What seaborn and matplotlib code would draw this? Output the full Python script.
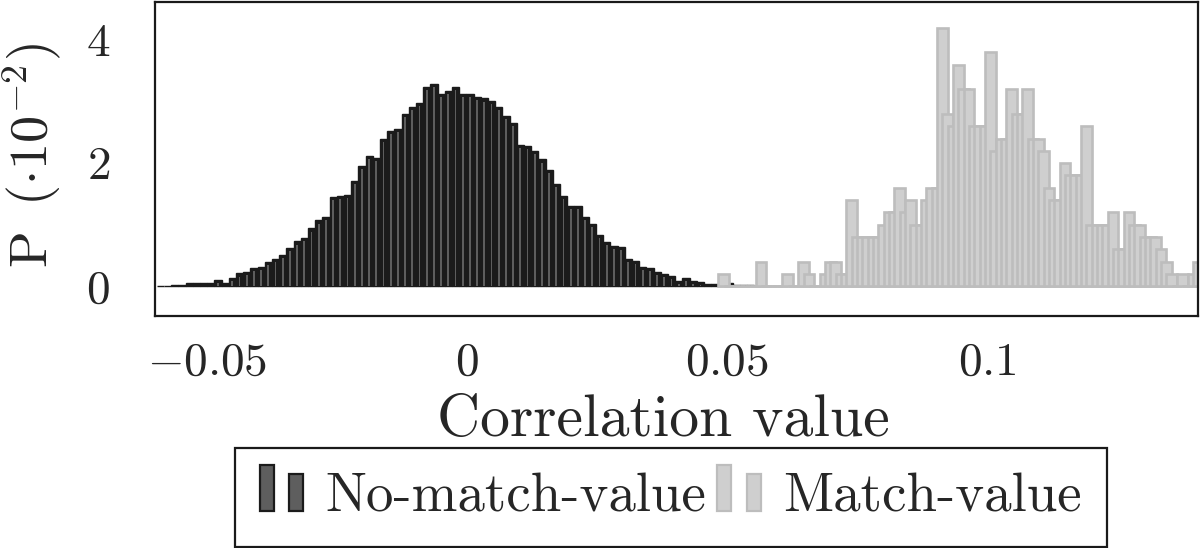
import numpy as np
import pandas as pd
import matplotlib
matplotlib.use("Agg")
import matplotlib.pyplot as plt
import seaborn as sns
from matplotlib.patches import Patch, Rectangle
from matplotlib.legend_handler import HandlerBase

# ------------------------------------------------------------------
# Data (P in units of 1e-2)
# ------------------------------------------------------------------
# No-match correlations: bins start at NOMATCH_START, width NOMATCH_STEP
NOMATCH_START = -0.05967
NOMATCH_STEP = 0.001385
no_match = [0.01, 0.01, 0.03, 0.03, 0.05, 0.05, 0.05, 0.06, 0.10, 0.06,
            0.14, 0.21, 0.24, 0.30, 0.32, 0.40, 0.44, 0.51, 0.62, 0.73,
            0.78, 0.94, 1.07, 1.13, 1.45, 1.47, 1.49, 1.71, 1.96, 2.12,
            2.08, 2.39, 2.53, 2.56, 2.80, 2.91, 2.97, 3.23, 3.29, 3.12,
            3.17, 3.23, 3.13, 3.13, 3.07, 3.05, 3.01, 2.91, 2.76, 2.65,
            2.30, 2.28, 2.20, 2.06, 1.89, 1.67, 1.47, 1.30, 1.30, 1.12,
            1.01, 0.84, 0.72, 0.66, 0.64, 0.44, 0.41, 0.31, 0.30, 0.23,
            0.20, 0.17, 0.09, 0.14, 0.09, 0.07, 0.04, 0.04, 0.03, 0.05,
            0.02, 0.02, 0.02, 0.01, 0.01, 0.01, 0.005]

# Match correlations: bars start at MATCH_START, spaced MATCH_STEP (bars are 2 steps wide)
MATCH_START = 0.04833
MATCH_STEP = 0.001026
match = [0.2, 0, 0, 0, 0, 0, 0, 0.4, 0, 0,
         0, 0, 0.2, 0, 0, 0.4, 0.2, 0, 0, 0.2,
         0.4, 0.4, 0.2, 0.2, 1.4, 0.8, 0.8, 0.8, 0.8, 0.8,
         1.0, 1.2, 1.2, 1.6, 1.2, 1.4, 1.0, 1.0, 1.4, 1.6,
         1.6, 4.2, 2.8, 2.6, 3.6, 3.2, 3.2, 2.6, 2.6, 2.6,
         3.8, 2.2, 2.4, 2.4, 3.2, 2.8, 2.8, 3.2, 2.4, 2.4,
         2.2, 1.6, 1.4, 1.4, 2.0, 1.8, 1.8, 1.8, 2.6, 1.0,
         1.0, 1.0, 1.0, 1.2, 0.6, 0.6, 1.2, 1.0, 1.0, 0.8,
         0.8, 0.8, 0.6, 0.4, 0.2, 0, 0.2, 0, 0.2, 0.4]

x_ticks = [-0.05, 0, 0.05, 0.1]
x_ticklabels = [r"$-0.05$", r"$0$", r"$0.05$", r"$0.1$"]
y_ticks = [0, 2, 4]
labels = ["No-match-value", "Match-value"]

DARK_EDGE = "#1b1b1b"
DARK_FILL = "#5e5e5e"
LIGHT_FILL = "#cfcfcf"
LIGHT_EDGE = "#bdbdbd"


class TwoBars(HandlerBase):
    # pgfplots-style ybar legend image: two small bars
    def create_artists(self, legend, orig_handle, xdescent, ydescent,
                       width, height, fontsize, trans):
        bw = width * 0.28
        kw = dict(facecolor=orig_handle.get_facecolor(),
                  edgecolor=orig_handle.get_edgecolor(),
                  linewidth=orig_handle.get_linewidth(), transform=trans)
        r1 = Rectangle((-xdescent, 0), bw, fontsize * 0.84, **kw)
        r2 = Rectangle((-xdescent + width * 0.6, 0), bw, fontsize * 0.68, **kw)
        return [r1, r2]


sns.set_theme(style="white")
plt.rcParams["font.family"] = ["cmr10", "DejaVu Serif"]
plt.rcParams["mathtext.fontset"] = "cm"
plt.rcParams["axes.unicode_minus"] = True
plt.rcParams["axes.formatter.use_mathtext"] = True

fig = plt.figure(figsize=(12, 5.48), dpi=100)
ax = fig.add_axes([155 / 1200, 1 - 316 / 548, 1043 / 1200, 314.3 / 548])

# no-match bins
nm = np.array(no_match)
nm_edges = NOMATCH_START + NOMATCH_STEP * np.arange(len(nm) + 1)
df_nm = pd.DataFrame({"corr": nm_edges[:-1] + NOMATCH_STEP / 2, "p": nm,
                      "stripe": np.clip(nm - 0.05, 0, None)})
sns.histplot(data=df_nm, x="corr", weights="p", bins=list(nm_edges), shrink=1.0,
             color=DARK_EDGE, edgecolor=DARK_EDGE, linewidth=1.0, alpha=1,
             legend=False, ax=ax)
# thin fill stripes inside the dark bars
sns.histplot(data=df_nm, x="corr", weights="stripe", bins=list(nm_edges),
             shrink=0.25, color=DARK_FILL, linewidth=0, alpha=1,
             legend=False, ax=ax)

# match bins (bars two steps wide, overlapping)
mv = np.array(match)
m_edges = MATCH_START + MATCH_STEP * (np.arange(len(mv) + 1) + 0.5)
df_m = pd.DataFrame({"corr": m_edges[:-1] + MATCH_STEP / 2, "p": mv})
sns.histplot(data=df_m, x="corr", weights="p", bins=list(m_edges), shrink=2.0,
             color=LIGHT_FILL, edgecolor=LIGHT_EDGE, linewidth=1.9, alpha=1,
             legend=False, ax=ax)

ax.set_xlim(-0.06, 0.1406)
ax.set_ylim(-0.48, 4.62)
ax.set_xticks(x_ticks)
ax.set_xticklabels(x_ticklabels)
ax.set_yticks(y_ticks)
ax.set_yticklabels([f"${v}$" for v in y_ticks])
ax.tick_params(axis="both", direction="inout", length=17, width=1.2,
               color="#8a8a8a", labelsize=34)
ax.tick_params(axis="x", pad=10)
ax.tick_params(axis="y", pad=24)
for s in ax.spines.values():
    s.set_visible(True)
    s.set_color("#1a1a1a")
    s.set_linewidth(1.6)

ax.set_xlabel("Correlation value", fontsize=43, labelpad=8)
ax.xaxis.label.set_x(0.487)
ax.set_ylabel(r"P $\,(\cdot 10^{-2})$", fontsize=39)
ax.yaxis.set_label_coords(-0.087, 0.51)

handles = [Patch(facecolor=DARK_FILL, edgecolor=DARK_EDGE, linewidth=1.6),
           Patch(facecolor=LIGHT_FILL, edgecolor=LIGHT_EDGE, linewidth=1.6)]
leg = fig.legend(handles, labels, handler_map={Patch: TwoBars()},
                 loc="upper center", bbox_to_anchor=(0.559, 0.1825), ncol=2,
                 fontsize=39.5, frameon=True, fancybox=False, framealpha=1,
                 edgecolor="#1a1a1a", borderpad=0.45, borderaxespad=0,
                 handlelength=0.9, handleheight=0.7, handletextpad=0.3,
                 columnspacing=0.2)
leg.get_frame().set_linewidth(1.6)

fig.savefig("out.png", dpi=100)
